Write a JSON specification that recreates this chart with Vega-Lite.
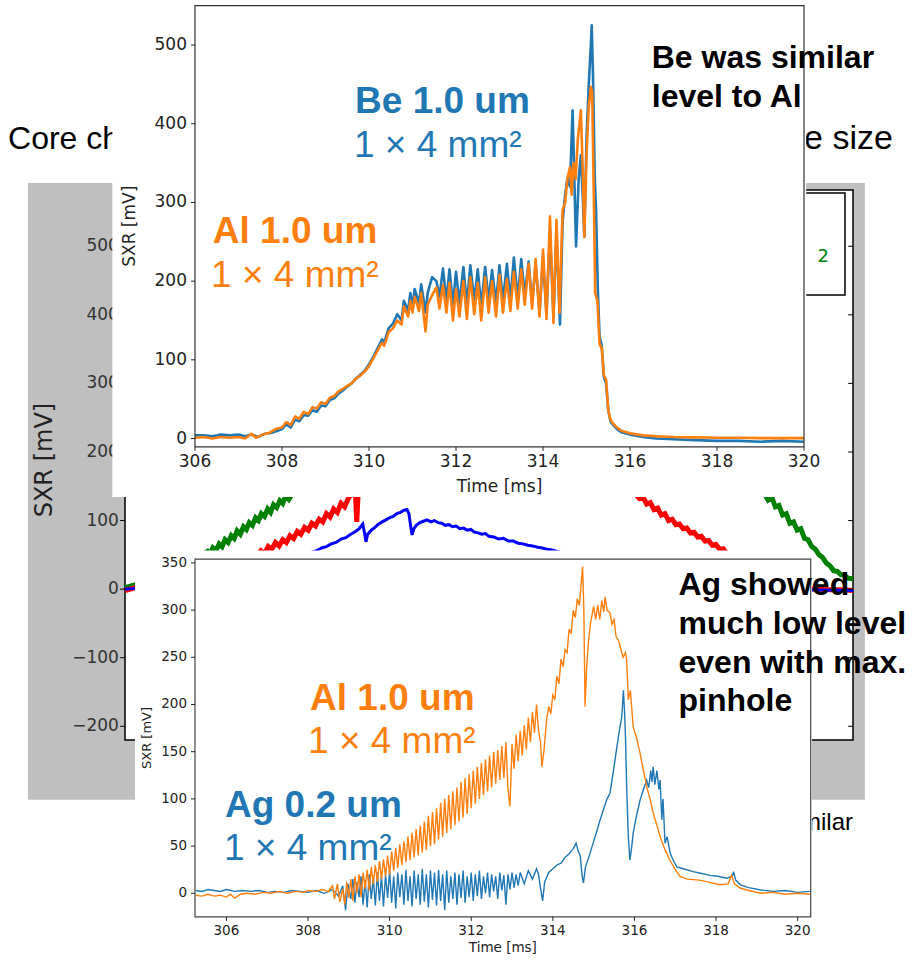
{
  "$schema": "https://vega.github.io/schema/vega-lite/v6.json",
  "width": 912,
  "height": 961,
  "autosize": "none",
  "padding": 0,
  "background": "white",
  "config": {"view": {"stroke": null}},
  "datasets": {
    "bg_ticks": [{"v": -200}, {"v": -100}, {"v": 0}, {"v": 100}, {"v": 200}, {"v": 300}, {"v": 400}, {"v": 500}],
    "top_xt": [{"t": 306}, {"t": 308}, {"t": 310}, {"t": 312}, {"t": 314}, {"t": 316}, {"t": 318}, {"t": 320}],
    "top_yt": [{"v": 0}, {"v": 100}, {"v": 200}, {"v": 300}, {"v": 400}, {"v": 500}],
    "bot_xt": [{"t": 306}, {"t": 308}, {"t": 310}, {"t": 312}, {"t": 314}, {"t": 316}, {"t": 318}, {"t": 320}],
    "bot_yt": [{"v": 0}, {"v": 50}, {"v": 100}, {"v": 150}, {"v": 200}, {"v": 250}, {"v": 300}, {"v": 350}],
    "bg_green": [
      {"t": 300.0, "v": 2}, {"t": 300.4, "v": 6}, {"t": 300.9, "v": 11}, {"t": 301.5, "v": 20}, {"t": 302.1, "v": 30}, {"t": 302.7, "v": 40}, {"t": 303.1, "v": 48}, {"t": 303.4, "v": 55},
      {"t": 303.5, "v": 50}, {"t": 303.62, "v": 60}, {"t": 303.75, "v": 56}, {"t": 303.88, "v": 66}, {"t": 304.0, "v": 62}, {"t": 304.12, "v": 72}, {"t": 304.25, "v": 68}, {"t": 304.38, "v": 78},
      {"t": 304.5, "v": 74}, {"t": 304.62, "v": 85}, {"t": 304.75, "v": 80}, {"t": 304.88, "v": 91}, {"t": 305.0, "v": 87}, {"t": 305.12, "v": 97}, {"t": 305.25, "v": 93}, {"t": 305.38, "v": 104},
      {"t": 305.5, "v": 100}, {"t": 305.62, "v": 110}, {"t": 305.75, "v": 106}, {"t": 305.88, "v": 117}, {"t": 306.0, "v": 112}, {"t": 306.12, "v": 123}, {"t": 306.25, "v": 119}, {"t": 306.38, "v": 129},
      {"t": 306.5, "v": 125}, {"t": 306.62, "v": 136}, {"t": 306.75, "v": 131}, {"t": 306.9, "v": 140}, {"t": 307.2, "v": 150}, {"t": 308.0, "v": 170}, {"t": 310.0, "v": 210}, {"t": 314.0, "v": 240},
      {"t": 318.0, "v": 240}, {"t": 322.0, "v": 220}, {"t": 325.0, "v": 170}, {"t": 326.3, "v": 142}, {"t": 326.5, "v": 130}, {"t": 326.65, "v": 134}, {"t": 326.8, "v": 120}, {"t": 326.95, "v": 122},
      {"t": 327.1, "v": 108}, {"t": 327.25, "v": 110}, {"t": 327.4, "v": 96}, {"t": 327.55, "v": 98}, {"t": 327.7, "v": 86}, {"t": 327.85, "v": 88}, {"t": 328.0, "v": 74}, {"t": 328.15, "v": 72},
      {"t": 328.3, "v": 62}, {"t": 328.45, "v": 58}, {"t": 328.6, "v": 50}, {"t": 328.75, "v": 46}, {"t": 328.9, "v": 38}, {"t": 329.05, "v": 34}, {"t": 329.2, "v": 27}, {"t": 329.35, "v": 26},
      {"t": 329.5, "v": 21}, {"t": 329.65, "v": 20}, {"t": 329.8, "v": 16}, {"t": 330.0, "v": 15}
    ],
    "bg_red": [
      {"t": 300.0, "v": -2}, {"t": 300.5, "v": 3}, {"t": 301.2, "v": 8}, {"t": 302.0, "v": 15}, {"t": 303.0, "v": 25}, {"t": 304.0, "v": 36}, {"t": 304.8, "v": 44}, {"t": 305.3, "v": 50},
      {"t": 305.45, "v": 48}, {"t": 305.6, "v": 56}, {"t": 305.75, "v": 52}, {"t": 305.9, "v": 62}, {"t": 306.05, "v": 58}, {"t": 306.2, "v": 68}, {"t": 306.35, "v": 63}, {"t": 306.5, "v": 72},
      {"t": 306.65, "v": 68}, {"t": 306.8, "v": 78}, {"t": 306.95, "v": 74}, {"t": 307.1, "v": 84}, {"t": 307.25, "v": 80}, {"t": 307.4, "v": 90}, {"t": 307.55, "v": 86}, {"t": 307.7, "v": 96},
      {"t": 307.85, "v": 92}, {"t": 308.0, "v": 102}, {"t": 308.15, "v": 98}, {"t": 308.3, "v": 110}, {"t": 308.45, "v": 105}, {"t": 308.6, "v": 117}, {"t": 308.75, "v": 112}, {"t": 308.9, "v": 125},
      {"t": 309.05, "v": 120}, {"t": 309.2, "v": 132}, {"t": 309.35, "v": 140}, {"t": 309.5, "v": 136}, {"t": 309.55, "v": 98}, {"t": 309.6, "v": 134}, {"t": 309.7, "v": 145}, {"t": 310.5, "v": 170},
      {"t": 315.0, "v": 210}, {"t": 319.0, "v": 190}, {"t": 320.5, "v": 150}, {"t": 321.0, "v": 140}, {"t": 321.2, "v": 132}, {"t": 321.35, "v": 134}, {"t": 321.5, "v": 124}, {"t": 321.65, "v": 126},
      {"t": 321.8, "v": 116}, {"t": 321.95, "v": 118}, {"t": 322.1, "v": 108}, {"t": 322.25, "v": 110}, {"t": 322.4, "v": 100}, {"t": 322.55, "v": 102}, {"t": 322.7, "v": 94}, {"t": 322.85, "v": 95},
      {"t": 323.0, "v": 88}, {"t": 323.15, "v": 89}, {"t": 323.3, "v": 82}, {"t": 323.45, "v": 83}, {"t": 323.6, "v": 76}, {"t": 323.75, "v": 77}, {"t": 323.9, "v": 70}, {"t": 324.05, "v": 71},
      {"t": 324.2, "v": 64}, {"t": 324.35, "v": 65}, {"t": 324.5, "v": 58}, {"t": 324.65, "v": 59}, {"t": 324.8, "v": 52}, {"t": 325.0, "v": 48}, {"t": 325.5, "v": 35}, {"t": 326.0, "v": 22},
      {"t": 326.5, "v": 12}, {"t": 327.0, "v": 6}, {"t": 327.5, "v": 3}, {"t": 328.0, "v": 1}, {"t": 328.5, "v": 0}, {"t": 329.0, "v": -1}, {"t": 329.5, "v": -1}, {"t": 330.0, "v": -2}
    ],
    "bg_blue": [
      {"t": 300.0, "v": 0}, {"t": 302.0, "v": 5}, {"t": 304.0, "v": 15}, {"t": 306.0, "v": 30}, {"t": 307.0, "v": 42}, {"t": 307.7, "v": 54}, {"t": 307.9, "v": 56}, {"t": 308.1, "v": 60},
      {"t": 308.3, "v": 62}, {"t": 308.5, "v": 66}, {"t": 308.7, "v": 68}, {"t": 308.9, "v": 73}, {"t": 309.1, "v": 75}, {"t": 309.3, "v": 80}, {"t": 309.5, "v": 84}, {"t": 309.65, "v": 88},
      {"t": 309.8, "v": 95}, {"t": 309.88, "v": 80}, {"t": 309.93, "v": 69}, {"t": 310.0, "v": 80}, {"t": 310.15, "v": 86}, {"t": 310.3, "v": 90}, {"t": 310.45, "v": 95}, {"t": 310.6, "v": 98},
      {"t": 310.75, "v": 101}, {"t": 310.9, "v": 104}, {"t": 311.05, "v": 106}, {"t": 311.2, "v": 110}, {"t": 311.35, "v": 112}, {"t": 311.5, "v": 115}, {"t": 311.62, "v": 116}, {"t": 311.7, "v": 110},
      {"t": 311.78, "v": 90}, {"t": 311.83, "v": 79}, {"t": 311.9, "v": 88}, {"t": 312.0, "v": 93}, {"t": 312.15, "v": 97}, {"t": 312.3, "v": 99}, {"t": 312.45, "v": 101}, {"t": 312.6, "v": 98},
      {"t": 312.75, "v": 100}, {"t": 312.9, "v": 97}, {"t": 313.05, "v": 96}, {"t": 313.2, "v": 93}, {"t": 313.35, "v": 94}, {"t": 313.5, "v": 91}, {"t": 313.65, "v": 92}, {"t": 313.8, "v": 88},
      {"t": 313.95, "v": 89}, {"t": 314.1, "v": 86}, {"t": 314.25, "v": 87}, {"t": 314.4, "v": 83}, {"t": 314.55, "v": 82}, {"t": 314.7, "v": 80}, {"t": 314.85, "v": 81}, {"t": 315.0, "v": 77},
      {"t": 315.2, "v": 76}, {"t": 315.4, "v": 73}, {"t": 315.6, "v": 74}, {"t": 315.8, "v": 70}, {"t": 316.0, "v": 70}, {"t": 316.2, "v": 67}, {"t": 316.4, "v": 66}, {"t": 316.6, "v": 64},
      {"t": 316.8, "v": 63}, {"t": 317.0, "v": 61}, {"t": 317.2, "v": 60}, {"t": 317.4, "v": 58}, {"t": 317.6, "v": 57}, {"t": 317.8, "v": 55}, {"t": 318.0, "v": 53}, {"t": 319.0, "v": 40},
      {"t": 320.0, "v": 28}, {"t": 321.0, "v": 15}, {"t": 322.0, "v": 6}, {"t": 324.0, "v": 2}, {"t": 326.0, "v": 0}, {"t": 328.0, "v": -1}, {"t": 330.0, "v": -2}
    ],
    "top_be": [
      {"t": 306.0, "v": 4}, {"t": 306.2, "v": 4}, {"t": 306.4, "v": 3}, {"t": 306.6, "v": 5}, {"t": 306.8, "v": 4}, {"t": 307.0, "v": 5}, {"t": 307.15, "v": 3}, {"t": 307.3, "v": 5},
      {"t": 307.45, "v": 2}, {"t": 307.6, "v": 6}, {"t": 307.75, "v": 7}, {"t": 307.9, "v": 10}, {"t": 308.0, "v": 12}, {"t": 308.1, "v": 18}, {"t": 308.2, "v": 14}, {"t": 308.3, "v": 24},
      {"t": 308.4, "v": 22}, {"t": 308.5, "v": 30}, {"t": 308.6, "v": 29}, {"t": 308.7, "v": 36}, {"t": 308.8, "v": 34}, {"t": 308.9, "v": 42}, {"t": 309.0, "v": 41}, {"t": 309.1, "v": 49},
      {"t": 309.2, "v": 51}, {"t": 309.3, "v": 57}, {"t": 309.4, "v": 61}, {"t": 309.5, "v": 66}, {"t": 309.6, "v": 70}, {"t": 309.7, "v": 76}, {"t": 309.8, "v": 81}, {"t": 309.9, "v": 86},
      {"t": 310.0, "v": 94}, {"t": 310.1, "v": 104}, {"t": 310.2, "v": 115}, {"t": 310.3, "v": 126}, {"t": 310.35, "v": 122}, {"t": 310.45, "v": 140}, {"t": 310.55, "v": 146}, {"t": 310.65, "v": 158},
      {"t": 310.75, "v": 150}, {"t": 310.8, "v": 175}, {"t": 310.9, "v": 163}, {"t": 310.95, "v": 185}, {"t": 311.0, "v": 168}, {"t": 311.05, "v": 190}, {"t": 311.15, "v": 172}, {"t": 311.2, "v": 196},
      {"t": 311.3, "v": 160}, {"t": 311.35, "v": 185}, {"t": 311.45, "v": 205}, {"t": 311.55, "v": 200}, {"t": 311.62, "v": 180}, {"t": 311.7, "v": 216}, {"t": 311.78, "v": 175}, {"t": 311.85, "v": 215},
      {"t": 311.93, "v": 170}, {"t": 312.0, "v": 212}, {"t": 312.08, "v": 172}, {"t": 312.17, "v": 218}, {"t": 312.25, "v": 170}, {"t": 312.33, "v": 220}, {"t": 312.42, "v": 175}, {"t": 312.5, "v": 215},
      {"t": 312.58, "v": 168}, {"t": 312.67, "v": 218}, {"t": 312.75, "v": 176}, {"t": 312.83, "v": 214}, {"t": 312.92, "v": 172}, {"t": 313.0, "v": 220}, {"t": 313.08, "v": 175}, {"t": 313.17, "v": 222},
      {"t": 313.25, "v": 176}, {"t": 313.33, "v": 230}, {"t": 313.42, "v": 178}, {"t": 313.5, "v": 228}, {"t": 313.58, "v": 182}, {"t": 313.67, "v": 225}, {"t": 313.75, "v": 170}, {"t": 313.83, "v": 222},
      {"t": 313.92, "v": 160}, {"t": 314.0, "v": 230}, {"t": 314.08, "v": 158}, {"t": 314.16, "v": 265}, {"t": 314.24, "v": 155}, {"t": 314.31, "v": 262}, {"t": 314.39, "v": 145}, {"t": 314.45, "v": 275},
      {"t": 314.51, "v": 310}, {"t": 314.56, "v": 330}, {"t": 314.62, "v": 320}, {"t": 314.68, "v": 417}, {"t": 314.76, "v": 244}, {"t": 314.82, "v": 330}, {"t": 314.87, "v": 360}, {"t": 314.92, "v": 300},
      {"t": 314.95, "v": 256}, {"t": 315.0, "v": 380}, {"t": 315.05, "v": 447}, {"t": 315.1, "v": 500}, {"t": 315.12, "v": 525}, {"t": 315.15, "v": 460}, {"t": 315.19, "v": 330}, {"t": 315.22, "v": 290},
      {"t": 315.26, "v": 190}, {"t": 315.3, "v": 130}, {"t": 315.35, "v": 118}, {"t": 315.4, "v": 78}, {"t": 315.45, "v": 70}, {"t": 315.5, "v": 36}, {"t": 315.55, "v": 22}, {"t": 315.6, "v": 18},
      {"t": 315.7, "v": 12}, {"t": 315.8, "v": 8}, {"t": 316.0, "v": 5}, {"t": 316.3, "v": 2}, {"t": 316.6, "v": 0}, {"t": 317.0, "v": -1}, {"t": 317.5, "v": -2}, {"t": 318.0, "v": -3},
      {"t": 318.5, "v": -3}, {"t": 319.0, "v": -4}, {"t": 319.5, "v": -3}, {"t": 320.0, "v": -4}
    ],
    "top_al": [
      {"t": 306.0, "v": 1}, {"t": 306.2, "v": 2}, {"t": 306.4, "v": 0}, {"t": 306.6, "v": 2}, {"t": 306.8, "v": 1}, {"t": 307.0, "v": 2}, {"t": 307.15, "v": 0}, {"t": 307.3, "v": 6},
      {"t": 307.4, "v": 1}, {"t": 307.55, "v": 5}, {"t": 307.7, "v": 7}, {"t": 307.85, "v": 12}, {"t": 308.0, "v": 14}, {"t": 308.1, "v": 21}, {"t": 308.2, "v": 17}, {"t": 308.3, "v": 28},
      {"t": 308.4, "v": 25}, {"t": 308.5, "v": 34}, {"t": 308.6, "v": 31}, {"t": 308.7, "v": 40}, {"t": 308.8, "v": 38}, {"t": 308.9, "v": 46}, {"t": 309.0, "v": 44}, {"t": 309.1, "v": 52},
      {"t": 309.2, "v": 54}, {"t": 309.3, "v": 60}, {"t": 309.4, "v": 63}, {"t": 309.5, "v": 67}, {"t": 309.6, "v": 70}, {"t": 309.7, "v": 76}, {"t": 309.8, "v": 80}, {"t": 309.9, "v": 85},
      {"t": 310.0, "v": 92}, {"t": 310.1, "v": 102}, {"t": 310.2, "v": 112}, {"t": 310.3, "v": 122}, {"t": 310.35, "v": 118}, {"t": 310.45, "v": 135}, {"t": 310.55, "v": 140}, {"t": 310.65, "v": 150},
      {"t": 310.75, "v": 145}, {"t": 310.8, "v": 168}, {"t": 310.9, "v": 155}, {"t": 310.95, "v": 175}, {"t": 311.0, "v": 160}, {"t": 311.05, "v": 180}, {"t": 311.15, "v": 162}, {"t": 311.2, "v": 185},
      {"t": 311.3, "v": 136}, {"t": 311.35, "v": 170}, {"t": 311.45, "v": 182}, {"t": 311.55, "v": 192}, {"t": 311.62, "v": 165}, {"t": 311.7, "v": 195}, {"t": 311.78, "v": 160}, {"t": 311.85, "v": 198},
      {"t": 311.93, "v": 150}, {"t": 312.0, "v": 190}, {"t": 312.08, "v": 155}, {"t": 312.17, "v": 200}, {"t": 312.25, "v": 152}, {"t": 312.33, "v": 205}, {"t": 312.42, "v": 158}, {"t": 312.5, "v": 198},
      {"t": 312.58, "v": 150}, {"t": 312.67, "v": 205}, {"t": 312.75, "v": 160}, {"t": 312.83, "v": 200}, {"t": 312.92, "v": 155}, {"t": 313.0, "v": 208}, {"t": 313.08, "v": 160}, {"t": 313.17, "v": 203},
      {"t": 313.25, "v": 162}, {"t": 313.33, "v": 212}, {"t": 313.42, "v": 165}, {"t": 313.5, "v": 215}, {"t": 313.58, "v": 170}, {"t": 313.67, "v": 222}, {"t": 313.75, "v": 165}, {"t": 313.83, "v": 228},
      {"t": 313.92, "v": 155}, {"t": 314.0, "v": 240}, {"t": 314.08, "v": 152}, {"t": 314.16, "v": 282}, {"t": 314.24, "v": 147}, {"t": 314.31, "v": 278}, {"t": 314.38, "v": 160}, {"t": 314.45, "v": 290},
      {"t": 314.51, "v": 300}, {"t": 314.56, "v": 330}, {"t": 314.62, "v": 345}, {"t": 314.66, "v": 310}, {"t": 314.7, "v": 350}, {"t": 314.75, "v": 330}, {"t": 314.8, "v": 380}, {"t": 314.87, "v": 417},
      {"t": 314.92, "v": 330}, {"t": 314.95, "v": 256}, {"t": 315.0, "v": 360}, {"t": 315.05, "v": 420}, {"t": 315.1, "v": 447}, {"t": 315.13, "v": 440}, {"t": 315.17, "v": 300}, {"t": 315.2, "v": 185},
      {"t": 315.25, "v": 175}, {"t": 315.3, "v": 120}, {"t": 315.35, "v": 115}, {"t": 315.4, "v": 80}, {"t": 315.45, "v": 75}, {"t": 315.5, "v": 36}, {"t": 315.55, "v": 24}, {"t": 315.6, "v": 20},
      {"t": 315.7, "v": 14}, {"t": 315.8, "v": 10}, {"t": 316.0, "v": 6.6}, {"t": 316.3, "v": 4}, {"t": 316.6, "v": 3}, {"t": 317.0, "v": 2}, {"t": 317.5, "v": 1.5}, {"t": 318.0, "v": 1},
      {"t": 318.5, "v": 1}, {"t": 319.0, "v": 0.5}, {"t": 319.5, "v": 0.5}, {"t": 320.0, "v": 0.5}
    ],
    "bot_ag": [
      {"t": 305.25, "v": 3}, {"t": 305.4, "v": 2}, {"t": 305.55, "v": 4}, {"t": 305.7, "v": 3}, {"t": 305.85, "v": 2}, {"t": 306.0, "v": 4}, {"t": 306.2, "v": 2}, {"t": 306.4, "v": 3},
      {"t": 306.6, "v": 2}, {"t": 306.8, "v": 3}, {"t": 307.0, "v": 1}, {"t": 307.2, "v": 2}, {"t": 307.4, "v": 1}, {"t": 307.6, "v": 3}, {"t": 307.8, "v": 2}, {"t": 308.0, "v": 1},
      {"t": 308.2, "v": 3}, {"t": 308.4, "v": 0}, {"t": 308.6, "v": 4}, {"t": 308.75, "v": -3}, {"t": 308.85, "v": 8}, {"t": 308.92, "v": -18}, {"t": 308.98, "v": 10}, {"t": 309.05, "v": -6},
      {"t": 309.1, "v": 15}, {"t": 309.15, "v": -10}, {"t": 309.2, "v": 12}, {"t": 309.25, "v": -4}, {"t": 309.3, "v": 18}, {"t": 309.35, "v": -12}, {"t": 309.4, "v": 14}, {"t": 309.45, "v": -15},
      {"t": 309.5, "v": 20}, {"t": 309.55, "v": -6}, {"t": 309.6, "v": 16}, {"t": 309.65, "v": -13}, {"t": 309.7, "v": 22}, {"t": 309.75, "v": -8}, {"t": 309.8, "v": 18}, {"t": 309.85, "v": -14},
      {"t": 309.9, "v": 20}, {"t": 309.95, "v": -5}, {"t": 310.0, "v": 24}, {"t": 310.05, "v": -10}, {"t": 310.1, "v": 18}, {"t": 310.15, "v": -16}, {"t": 310.2, "v": 22}, {"t": 310.25, "v": -4},
      {"t": 310.3, "v": 20}, {"t": 310.35, "v": -12}, {"t": 310.4, "v": 25}, {"t": 310.45, "v": -8}, {"t": 310.5, "v": 18}, {"t": 310.55, "v": -14}, {"t": 310.6, "v": 24}, {"t": 310.65, "v": -6},
      {"t": 310.7, "v": 20}, {"t": 310.75, "v": -12}, {"t": 310.8, "v": 26}, {"t": 310.85, "v": -9}, {"t": 310.9, "v": 20}, {"t": 310.95, "v": -15}, {"t": 311.0, "v": 24}, {"t": 311.05, "v": -7},
      {"t": 311.1, "v": 22}, {"t": 311.15, "v": -13}, {"t": 311.2, "v": 25}, {"t": 311.25, "v": -8}, {"t": 311.3, "v": 20}, {"t": 311.35, "v": -18}, {"t": 311.4, "v": 24}, {"t": 311.45, "v": -10},
      {"t": 311.5, "v": 18}, {"t": 311.55, "v": -6}, {"t": 311.6, "v": 22}, {"t": 311.65, "v": -12}, {"t": 311.7, "v": 20}, {"t": 311.75, "v": -5}, {"t": 311.8, "v": 24}, {"t": 311.85, "v": -10},
      {"t": 311.9, "v": 18}, {"t": 311.95, "v": -4}, {"t": 312.0, "v": 22}, {"t": 312.05, "v": -8}, {"t": 312.1, "v": 20}, {"t": 312.15, "v": -3}, {"t": 312.2, "v": 24}, {"t": 312.25, "v": -6},
      {"t": 312.3, "v": 18}, {"t": 312.35, "v": 0}, {"t": 312.4, "v": 22}, {"t": 312.45, "v": -4}, {"t": 312.5, "v": 20}, {"t": 312.55, "v": 2}, {"t": 312.6, "v": 18}, {"t": 312.65, "v": -6},
      {"t": 312.7, "v": 22}, {"t": 312.75, "v": 3}, {"t": 312.8, "v": 19}, {"t": 312.85, "v": -12}, {"t": 312.9, "v": 20}, {"t": 312.95, "v": 4}, {"t": 313.0, "v": 22}, {"t": 313.05, "v": 6},
      {"t": 313.1, "v": 20}, {"t": 313.15, "v": 8}, {"t": 313.2, "v": 22}, {"t": 313.3, "v": 10}, {"t": 313.4, "v": 24}, {"t": 313.5, "v": 15}, {"t": 313.6, "v": 26}, {"t": 313.65, "v": 20},
      {"t": 313.7, "v": 5}, {"t": 313.75, "v": -8}, {"t": 313.8, "v": 12}, {"t": 313.9, "v": 22}, {"t": 314.0, "v": 26}, {"t": 314.1, "v": 30}, {"t": 314.2, "v": 32}, {"t": 314.3, "v": 38},
      {"t": 314.4, "v": 42}, {"t": 314.5, "v": 47}, {"t": 314.57, "v": 53}, {"t": 314.62, "v": 45}, {"t": 314.67, "v": 40}, {"t": 314.72, "v": 18}, {"t": 314.75, "v": 11}, {"t": 314.8, "v": 28},
      {"t": 314.91, "v": 42}, {"t": 315.0, "v": 55}, {"t": 315.08, "v": 66}, {"t": 315.16, "v": 78}, {"t": 315.25, "v": 90}, {"t": 315.33, "v": 100}, {"t": 315.4, "v": 106}, {"t": 315.48, "v": 128},
      {"t": 315.57, "v": 155}, {"t": 315.63, "v": 172}, {"t": 315.69, "v": 187}, {"t": 315.73, "v": 215}, {"t": 315.76, "v": 190}, {"t": 315.78, "v": 166}, {"t": 315.81, "v": 113}, {"t": 315.85, "v": 60},
      {"t": 315.89, "v": 35}, {"t": 315.93, "v": 48}, {"t": 315.97, "v": 64}, {"t": 316.05, "v": 82}, {"t": 316.14, "v": 99}, {"t": 316.22, "v": 110}, {"t": 316.3, "v": 120}, {"t": 316.35, "v": 112},
      {"t": 316.4, "v": 130}, {"t": 316.43, "v": 118}, {"t": 316.46, "v": 134}, {"t": 316.5, "v": 115}, {"t": 316.55, "v": 130}, {"t": 316.6, "v": 110}, {"t": 316.63, "v": 120}, {"t": 316.67, "v": 78},
      {"t": 316.7, "v": 100}, {"t": 316.75, "v": 53}, {"t": 316.8, "v": 60}, {"t": 316.88, "v": 42}, {"t": 316.95, "v": 35}, {"t": 317.04, "v": 28}, {"t": 317.2, "v": 26}, {"t": 317.44, "v": 23},
      {"t": 317.65, "v": 21}, {"t": 317.85, "v": 19}, {"t": 318.05, "v": 18}, {"t": 318.26, "v": 16}, {"t": 318.4, "v": 18}, {"t": 318.43, "v": 23}, {"t": 318.48, "v": 14}, {"t": 318.6, "v": 9},
      {"t": 318.8, "v": 6}, {"t": 319.1, "v": 3.5}, {"t": 319.4, "v": 2}, {"t": 319.7, "v": 3}, {"t": 320.0, "v": 1}, {"t": 320.3, "v": 2}
    ],
    "bot_al": [
      {"t": 305.25, "v": -2}, {"t": 305.4, "v": -3}, {"t": 305.55, "v": -1}, {"t": 305.7, "v": -3}, {"t": 305.85, "v": -2}, {"t": 306.0, "v": -4}, {"t": 306.1, "v": -1}, {"t": 306.2, "v": -5},
      {"t": 306.35, "v": -1}, {"t": 306.5, "v": 0}, {"t": 306.7, "v": -1}, {"t": 306.9, "v": 1}, {"t": 307.1, "v": 0}, {"t": 307.3, "v": 2}, {"t": 307.5, "v": 0}, {"t": 307.7, "v": 2},
      {"t": 307.9, "v": 1}, {"t": 308.0, "v": 3}, {"t": 308.2, "v": 2}, {"t": 308.35, "v": 4}, {"t": 308.5, "v": 2}, {"t": 308.6, "v": 8}, {"t": 308.65, "v": -6}, {"t": 308.72, "v": 10},
      {"t": 308.78, "v": -9}, {"t": 308.85, "v": 5}, {"t": 308.9, "v": -12}, {"t": 308.95, "v": 12}, {"t": 309.0, "v": -5}, {"t": 309.05, "v": 15}, {"t": 309.1, "v": -8}, {"t": 309.15, "v": 18},
      {"t": 309.2, "v": 0}, {"t": 309.25, "v": 20}, {"t": 309.3, "v": -4}, {"t": 309.35, "v": 22}, {"t": 309.4, "v": 5}, {"t": 309.45, "v": 25}, {"t": 309.5, "v": 3}, {"t": 309.55, "v": 28},
      {"t": 309.6, "v": 10}, {"t": 309.65, "v": 30}, {"t": 309.7, "v": 12}, {"t": 309.75, "v": 34}, {"t": 309.8, "v": 15}, {"t": 309.85, "v": 36}, {"t": 309.9, "v": 18}, {"t": 309.95, "v": 40},
      {"t": 310.0, "v": 20}, {"t": 310.05, "v": 44}, {"t": 310.1, "v": 24}, {"t": 310.15, "v": 48}, {"t": 310.2, "v": 27}, {"t": 310.25, "v": 52}, {"t": 310.3, "v": 30}, {"t": 310.35, "v": 55},
      {"t": 310.4, "v": 33}, {"t": 310.45, "v": 60}, {"t": 310.5, "v": 35}, {"t": 310.55, "v": 64}, {"t": 310.6, "v": 38}, {"t": 310.65, "v": 68}, {"t": 310.7, "v": 40}, {"t": 310.75, "v": 72},
      {"t": 310.8, "v": 43}, {"t": 310.85, "v": 76}, {"t": 310.9, "v": 46}, {"t": 310.95, "v": 82}, {"t": 311.0, "v": 50}, {"t": 311.05, "v": 86}, {"t": 311.1, "v": 52}, {"t": 311.15, "v": 90},
      {"t": 311.2, "v": 57}, {"t": 311.25, "v": 96}, {"t": 311.3, "v": 60}, {"t": 311.35, "v": 100}, {"t": 311.4, "v": 64}, {"t": 311.45, "v": 104}, {"t": 311.5, "v": 68}, {"t": 311.55, "v": 108},
      {"t": 311.6, "v": 72}, {"t": 311.65, "v": 112}, {"t": 311.7, "v": 76}, {"t": 311.75, "v": 118}, {"t": 311.8, "v": 80}, {"t": 311.85, "v": 122}, {"t": 311.9, "v": 84}, {"t": 311.95, "v": 126},
      {"t": 312.0, "v": 90}, {"t": 312.05, "v": 130}, {"t": 312.1, "v": 95}, {"t": 312.15, "v": 134}, {"t": 312.2, "v": 100}, {"t": 312.25, "v": 138}, {"t": 312.3, "v": 104}, {"t": 312.35, "v": 142},
      {"t": 312.4, "v": 108}, {"t": 312.45, "v": 146}, {"t": 312.5, "v": 112}, {"t": 312.55, "v": 150}, {"t": 312.6, "v": 116}, {"t": 312.65, "v": 152}, {"t": 312.7, "v": 120}, {"t": 312.75, "v": 156},
      {"t": 312.8, "v": 122}, {"t": 312.85, "v": 160}, {"t": 312.9, "v": 110}, {"t": 312.95, "v": 92}, {"t": 313.0, "v": 158}, {"t": 313.05, "v": 132}, {"t": 313.1, "v": 168}, {"t": 313.15, "v": 140},
      {"t": 313.2, "v": 172}, {"t": 313.25, "v": 146}, {"t": 313.3, "v": 178}, {"t": 313.35, "v": 152}, {"t": 313.4, "v": 186}, {"t": 313.45, "v": 160}, {"t": 313.5, "v": 192}, {"t": 313.55, "v": 170},
      {"t": 313.6, "v": 200}, {"t": 313.65, "v": 172}, {"t": 313.7, "v": 160}, {"t": 313.73, "v": 134}, {"t": 313.78, "v": 150}, {"t": 313.85, "v": 185}, {"t": 313.9, "v": 198}, {"t": 313.95, "v": 190},
      {"t": 314.0, "v": 210}, {"t": 314.05, "v": 205}, {"t": 314.1, "v": 230}, {"t": 314.15, "v": 222}, {"t": 314.2, "v": 248}, {"t": 314.25, "v": 240}, {"t": 314.3, "v": 258}, {"t": 314.35, "v": 255},
      {"t": 314.4, "v": 280}, {"t": 314.45, "v": 275}, {"t": 314.5, "v": 300}, {"t": 314.55, "v": 292}, {"t": 314.6, "v": 312}, {"t": 314.65, "v": 305}, {"t": 314.7, "v": 330}, {"t": 314.73, "v": 346},
      {"t": 314.76, "v": 300}, {"t": 314.79, "v": 198}, {"t": 314.83, "v": 240}, {"t": 314.87, "v": 265}, {"t": 314.92, "v": 285}, {"t": 315.0, "v": 304}, {"t": 315.05, "v": 290}, {"t": 315.1, "v": 305},
      {"t": 315.15, "v": 290}, {"t": 315.2, "v": 310}, {"t": 315.25, "v": 298}, {"t": 315.28, "v": 314}, {"t": 315.33, "v": 300}, {"t": 315.4, "v": 297}, {"t": 315.45, "v": 285}, {"t": 315.5, "v": 290},
      {"t": 315.55, "v": 272}, {"t": 315.61, "v": 268}, {"t": 315.67, "v": 258}, {"t": 315.72, "v": 250}, {"t": 315.78, "v": 255}, {"t": 315.81, "v": 247}, {"t": 315.85, "v": 205}, {"t": 315.9, "v": 215},
      {"t": 315.97, "v": 176}, {"t": 316.05, "v": 165}, {"t": 316.14, "v": 148}, {"t": 316.22, "v": 130}, {"t": 316.3, "v": 113}, {"t": 316.38, "v": 100}, {"t": 316.46, "v": 85}, {"t": 316.55, "v": 72},
      {"t": 316.63, "v": 60}, {"t": 316.75, "v": 46}, {"t": 316.87, "v": 35}, {"t": 317.0, "v": 25}, {"t": 317.12, "v": 18}, {"t": 317.3, "v": 15}, {"t": 317.6, "v": 14}, {"t": 317.9, "v": 11},
      {"t": 318.1, "v": 9}, {"t": 318.3, "v": 10}, {"t": 318.38, "v": 19}, {"t": 318.45, "v": 10}, {"t": 318.59, "v": 5.6}, {"t": 318.8, "v": 3}, {"t": 319.1, "v": 0}, {"t": 319.4, "v": 1},
      {"t": 319.7, "v": -1}, {"t": 320.0, "v": 0}, {"t": 320.3, "v": -1}
    ]
  },
  "layer": [
    {
      "layer": [
        {
          "data": {"values": [{}]},
          "mark": {"type": "rect", "fill": "#bfbfbf"},
          "encoding": {
            "x": {"datum": 296.0, "type": "quantitative", "scale": {"domain": [300, 330], "range": [125, 853], "nice": false, "zero": false}, "axis": null},
            "x2": {"datum": 330.49},
            "y": {"datum": -307.3, "type": "quantitative", "scale": {"domain": [-220, 582], "range": [740, 190], "nice": false, "zero": false}, "axis": null},
            "y2": {"datum": 592.2}
          }
        },
        {
          "data": {"values": [{}]},
          "mark": {"type": "rect", "fill": "white", "stroke": "black", "strokeWidth": 1.5},
          "encoding": {
            "x": {"datum": 300, "type": "quantitative", "scale": {"domain": [300, 330], "range": [125, 853], "nice": false, "zero": false}, "axis": null},
            "x2": {"datum": 330},
            "y": {"datum": -220, "type": "quantitative", "scale": {"domain": [-220, 582], "range": [740, 190], "nice": false, "zero": false}, "axis": null},
            "y2": {"datum": 582}
          }
        },
        {
          "data": {"values": [{}]},
          "mark": {"type": "rect", "fill": "white", "stroke": "black", "strokeWidth": 1.5},
          "encoding": {
            "x": {"datum": 319.57, "type": "quantitative", "scale": {"domain": [300, 330], "range": [125, 853], "nice": false, "zero": false}, "axis": null},
            "x2": {"datum": 329.67},
            "y": {"datum": 428.8, "type": "quantitative", "scale": {"domain": [-220, 582], "range": [740, 190], "nice": false, "zero": false}, "axis": null},
            "y2": {"datum": 577.6}
          }
        },
        {
          "data": {"values": [{}]},
          "mark": {"type": "text", "text": "ch\u20032", "align": "right", "baseline": "alphabetic", "font": "DejaVu Sans", "fontSize": 18, "color": "green"},
          "encoding": {
            "x": {"datum": 329.01, "type": "quantitative", "scale": {"domain": [300, 330], "range": [125, 853], "nice": false, "zero": false}, "axis": null},
            "y": {"datum": 477, "type": "quantitative", "scale": {"domain": [-220, 582], "range": [740, 190], "nice": false, "zero": false}, "axis": null}
          }
        },
        {
          "data": {"name": "bg_green"},
          "mark": {"type": "line", "color": "green", "strokeWidth": 5},
          "encoding": {
            "x": {"field": "t", "type": "quantitative", "scale": {"domain": [300, 330], "range": [125, 853], "nice": false, "zero": false}, "axis": null},
            "y": {"field": "v", "type": "quantitative", "scale": {"domain": [-220, 582], "range": [740, 190], "nice": false, "zero": false}, "axis": null}
          }
        },
        {
          "data": {"name": "bg_red"},
          "mark": {"type": "line", "color": "red", "strokeWidth": 5},
          "encoding": {
            "x": {"field": "t", "type": "quantitative", "scale": {"domain": [300, 330], "range": [125, 853], "nice": false, "zero": false}, "axis": null},
            "y": {"field": "v", "type": "quantitative", "scale": {"domain": [-220, 582], "range": [740, 190], "nice": false, "zero": false}, "axis": null}
          }
        },
        {
          "data": {"name": "bg_blue"},
          "mark": {"type": "line", "color": "blue", "strokeWidth": 3},
          "encoding": {
            "x": {"field": "t", "type": "quantitative", "scale": {"domain": [300, 330], "range": [125, 853], "nice": false, "zero": false}, "axis": null},
            "y": {"field": "v", "type": "quantitative", "scale": {"domain": [-220, 582], "range": [740, 190], "nice": false, "zero": false}, "axis": null}
          }
        },
        {
          "data": {"name": "bg_ticks"},
          "mark": {"type": "rule", "color": "black", "strokeWidth": 1},
          "encoding": {
            "x": {"datum": 299.8, "type": "quantitative", "scale": {"domain": [300, 330], "range": [125, 853], "nice": false, "zero": false}, "axis": null},
            "x2": {"datum": 300},
            "y": {"field": "v", "type": "quantitative", "scale": {"domain": [-220, 582], "range": [740, 190], "nice": false, "zero": false}, "axis": null}
          }
        },
        {
          "data": {"name": "bg_ticks"},
          "mark": {"type": "rule", "color": "black", "strokeWidth": 1},
          "encoding": {
            "x": {"datum": 329.8, "type": "quantitative", "scale": {"domain": [300, 330], "range": [125, 853], "nice": false, "zero": false}, "axis": null},
            "x2": {"datum": 330},
            "y": {"field": "v", "type": "quantitative", "scale": {"domain": [-220, 582], "range": [740, 190], "nice": false, "zero": false}, "axis": null}
          }
        },
        {
          "data": {"name": "bg_ticks"},
          "mark": {"type": "text", "align": "right", "baseline": "middle", "font": "DejaVu Sans", "fontSize": 17, "color": "#333"},
          "encoding": {
            "x": {"datum": 299.75, "type": "quantitative", "scale": {"domain": [300, 330], "range": [125, 853], "nice": false, "zero": false}, "axis": null},
            "y": {"field": "v", "type": "quantitative", "scale": {"domain": [-220, 582], "range": [740, 190], "nice": false, "zero": false}, "axis": null},
            "text": {"field": "v", "type": "quantitative", "format": "d"}
          }
        },
        {
          "data": {"values": [{}]},
          "mark": {"type": "text", "text": "SXR [mV]", "angle": 270, "align": "center", "baseline": "middle", "font": "DejaVu Sans", "fontSize": 24, "color": "#222"},
          "encoding": {
            "x": {"datum": 296.7, "type": "quantitative", "scale": {"domain": [300, 330], "range": [125, 853], "nice": false, "zero": false}, "axis": null},
            "y": {"datum": 188.2, "type": "quantitative", "scale": {"domain": [-220, 582], "range": [740, 190], "nice": false, "zero": false}, "axis": null}
          }
        },
        {
          "data": {"values": [{}]},
          "mark": {"type": "text", "text": "Core ch", "align": "left", "baseline": "alphabetic", "font": "Liberation Sans", "fontSize": 32, "color": "black"},
          "encoding": {
            "x": {"datum": 295.18, "type": "quantitative", "scale": {"domain": [300, 330], "range": [125, 853], "nice": false, "zero": false}, "axis": null},
            "y": {"datum": 641.8, "type": "quantitative", "scale": {"domain": [-220, 582], "range": [740, 190], "nice": false, "zero": false}, "axis": null}
          }
        },
        {
          "data": {"values": [{}]},
          "mark": {"type": "text", "text": "pinhole size", "align": "right", "baseline": "alphabetic", "font": "Liberation Sans", "fontSize": 34, "color": "black"},
          "encoding": {
            "x": {"datum": 331.644, "type": "quantitative", "scale": {"domain": [300, 330], "range": [125, 853], "nice": false, "zero": false}, "axis": null},
            "y": {"datum": 641.8, "type": "quantitative", "scale": {"domain": [-220, 582], "range": [740, 190], "nice": false, "zero": false}, "axis": null}
          }
        },
        {
          "data": {"values": [{}]},
          "mark": {"type": "text", "text": "similar", "align": "right", "baseline": "alphabetic", "font": "Liberation Sans", "fontSize": 24, "color": "black"},
          "encoding": {
            "x": {"datum": 330.0, "type": "quantitative", "scale": {"domain": [300, 330], "range": [125, 853], "nice": false, "zero": false}, "axis": null},
            "y": {"datum": -351.3, "type": "quantitative", "scale": {"domain": [-220, 582], "range": [740, 190], "nice": false, "zero": false}, "axis": null}
          }
        }
      ]
    },
    {
      "layer": [
        {
          "data": {"values": [{}]},
          "mark": {"type": "rect", "fill": "white"},
          "encoding": {
            "x": {"datum": 304.1, "type": "quantitative", "scale": {"domain": [306, 320], "range": [195, 804], "nice": false, "zero": false}, "axis": null},
            "x2": {"datum": 320.05},
            "y": {"datum": -74.3, "type": "quantitative", "scale": {"domain": [-10.5, 550], "range": [446.8, 5.7], "nice": false, "zero": false}, "axis": null},
            "y2": {"datum": 551}
          }
        },
        {
          "data": {"name": "top_be"},
          "mark": {"type": "line", "color": "#1f77b4", "strokeWidth": 2.6, "strokeJoin": "round"},
          "encoding": {
            "x": {"field": "t", "type": "quantitative", "scale": {"domain": [306, 320], "range": [195, 804], "nice": false, "zero": false}, "axis": null},
            "y": {"field": "v", "type": "quantitative", "scale": {"domain": [-10.5, 550], "range": [446.8, 5.7], "nice": false, "zero": false}, "axis": null}
          }
        },
        {
          "data": {"name": "top_al"},
          "mark": {"type": "line", "color": "#ff7f0e", "strokeWidth": 2.6, "strokeJoin": "round"},
          "encoding": {
            "x": {"field": "t", "type": "quantitative", "scale": {"domain": [306, 320], "range": [195, 804], "nice": false, "zero": false}, "axis": null},
            "y": {"field": "v", "type": "quantitative", "scale": {"domain": [-10.5, 550], "range": [446.8, 5.7], "nice": false, "zero": false}, "axis": null}
          }
        },
        {
          "data": {"values": [{}]},
          "mark": {"type": "rect", "fill": null, "fillOpacity": 0, "stroke": "#333", "strokeWidth": 1.2},
          "encoding": {
            "x": {"datum": 306, "type": "quantitative", "scale": {"domain": [306, 320], "range": [195, 804], "nice": false, "zero": false}, "axis": null},
            "x2": {"datum": 320},
            "y": {"datum": -10.5, "type": "quantitative", "scale": {"domain": [-10.5, 550], "range": [446.8, 5.7], "nice": false, "zero": false}, "axis": null},
            "y2": {"datum": 550}
          }
        },
        {
          "data": {"name": "top_xt"},
          "mark": {"type": "rule", "color": "#222", "strokeWidth": 1},
          "encoding": {
            "x": {"field": "t", "type": "quantitative", "scale": {"domain": [306, 320], "range": [195, 804], "nice": false, "zero": false}, "axis": null},
            "y": {"datum": -10.5, "type": "quantitative", "scale": {"domain": [-10.5, 550], "range": [446.8, 5.7], "nice": false, "zero": false}, "axis": null},
            "y2": {"datum": -15.6}
          }
        },
        {
          "data": {"name": "top_xt"},
          "mark": {"type": "text", "align": "center", "baseline": "top", "font": "DejaVu Sans", "fontSize": 17, "color": "#222"},
          "encoding": {
            "x": {"field": "t", "type": "quantitative", "scale": {"domain": [306, 320], "range": [195, 804], "nice": false, "zero": false}, "axis": null},
            "y": {"datum": -19.4, "type": "quantitative", "scale": {"domain": [-10.5, 550], "range": [446.8, 5.7], "nice": false, "zero": false}, "axis": null},
            "text": {"field": "t", "type": "quantitative", "format": "d"}
          }
        },
        {
          "data": {"name": "top_yt"},
          "mark": {"type": "rule", "color": "#222", "strokeWidth": 1},
          "encoding": {
            "x": {"datum": 305.908, "type": "quantitative", "scale": {"domain": [306, 320], "range": [195, 804], "nice": false, "zero": false}, "axis": null},
            "x2": {"datum": 306},
            "y": {"field": "v", "type": "quantitative", "scale": {"domain": [-10.5, 550], "range": [446.8, 5.7], "nice": false, "zero": false}, "axis": null}
          }
        },
        {
          "data": {"name": "top_yt"},
          "mark": {"type": "text", "align": "right", "baseline": "middle", "font": "DejaVu Sans", "fontSize": 17, "color": "#222"},
          "encoding": {
            "x": {"datum": 305.816, "type": "quantitative", "scale": {"domain": [306, 320], "range": [195, 804], "nice": false, "zero": false}, "axis": null},
            "y": {"field": "v", "type": "quantitative", "scale": {"domain": [-10.5, 550], "range": [446.8, 5.7], "nice": false, "zero": false}, "axis": null},
            "text": {"field": "v", "type": "quantitative", "format": "d"}
          }
        },
        {
          "data": {"values": [{}]},
          "mark": {"type": "text", "text": "Time [ms]", "align": "center", "baseline": "middle", "font": "DejaVu Sans", "fontSize": 17, "color": "#222"},
          "encoding": {
            "x": {"datum": 313.0, "type": "quantitative", "scale": {"domain": [306, 320], "range": [195, 804], "nice": false, "zero": false}, "axis": null},
            "y": {"datum": -61.6, "type": "quantitative", "scale": {"domain": [-10.5, 550], "range": [446.8, 5.7], "nice": false, "zero": false}, "axis": null}
          }
        },
        {
          "data": {"values": [{}]},
          "mark": {"type": "text", "text": "SXR [mV]", "angle": 270, "align": "center", "baseline": "middle", "font": "DejaVu Sans", "fontSize": 17, "color": "#222"},
          "encoding": {
            "x": {"datum": 304.506, "type": "quantitative", "scale": {"domain": [306, 320], "range": [195, 804], "nice": false, "zero": false}, "axis": null},
            "y": {"datum": 269.75, "type": "quantitative", "scale": {"domain": [-10.5, 550], "range": [446.8, 5.7], "nice": false, "zero": false}, "axis": null}
          }
        },
        {
          "data": {"values": [{}]},
          "mark": {"type": "text", "text": "Be 1.0 um", "align": "left", "baseline": "alphabetic", "font": "Liberation Sans", "fontSize": 37, "fontWeight": "bold", "color": "#1f77b4"},
          "encoding": {
            "x": {"datum": 309.68, "type": "quantitative", "scale": {"domain": [306, 320], "range": [195, 804], "nice": false, "zero": false}, "axis": null},
            "y": {"datum": 413.2, "type": "quantitative", "scale": {"domain": [-10.5, 550], "range": [446.8, 5.7], "nice": false, "zero": false}, "axis": null}
          }
        },
        {
          "data": {"values": [{}]},
          "mark": {"type": "text", "text": "1 × 4 mm²", "align": "left", "baseline": "alphabetic", "font": "Liberation Sans", "fontSize": 37, "color": "#1f77b4"},
          "encoding": {
            "x": {"datum": 309.655, "type": "quantitative", "scale": {"domain": [306, 320], "range": [195, 804], "nice": false, "zero": false}, "axis": null},
            "y": {"datum": 358.1, "type": "quantitative", "scale": {"domain": [-10.5, 550], "range": [446.8, 5.7], "nice": false, "zero": false}, "axis": null}
          }
        },
        {
          "data": {"values": [{}]},
          "mark": {"type": "text", "text": "Al 1.0 um", "align": "left", "baseline": "alphabetic", "font": "Liberation Sans", "fontSize": 37, "fontWeight": "bold", "color": "#ff7f0e"},
          "encoding": {
            "x": {"datum": 306.41, "type": "quantitative", "scale": {"domain": [306, 320], "range": [195, 804], "nice": false, "zero": false}, "axis": null},
            "y": {"datum": 248.0, "type": "quantitative", "scale": {"domain": [-10.5, 550], "range": [446.8, 5.7], "nice": false, "zero": false}, "axis": null}
          }
        },
        {
          "data": {"values": [{}]},
          "mark": {"type": "text", "text": "1 × 4 mm²", "align": "left", "baseline": "alphabetic", "font": "Liberation Sans", "fontSize": 37, "color": "#ff7f0e"},
          "encoding": {
            "x": {"datum": 306.37, "type": "quantitative", "scale": {"domain": [306, 320], "range": [195, 804], "nice": false, "zero": false}, "axis": null},
            "y": {"datum": 192.9, "type": "quantitative", "scale": {"domain": [-10.5, 550], "range": [446.8, 5.7], "nice": false, "zero": false}, "axis": null}
          }
        },
        {
          "data": {"values": [{}]},
          "mark": {"type": "text", "text": ["Be was similar", "level to Al"], "lineHeight": 39, "align": "left", "baseline": "alphabetic", "font": "Liberation Sans", "fontSize": 32, "fontWeight": "bold", "color": "black"},
          "encoding": {
            "x": {"datum": 316.5, "type": "quantitative", "scale": {"domain": [306, 320], "range": [195, 804], "nice": false, "zero": false}, "axis": null},
            "y": {"datum": 470.4, "type": "quantitative", "scale": {"domain": [-10.5, 550], "range": [446.8, 5.7], "nice": false, "zero": false}, "axis": null}
          }
        }
      ]
    },
    {
      "layer": [
        {
          "data": {"values": [{}]},
          "mark": {"type": "rect", "fill": "white"},
          "encoding": {
            "x": {"datum": 303.76, "type": "quantitative", "scale": {"domain": [305.23, 320.32], "range": [195, 810.7], "nice": false, "zero": false}, "axis": null},
            "x2": {"datum": 320.35},
            "y": {"datum": -72, "type": "quantitative", "scale": {"domain": [-25, 354], "range": [916.9, 559.1], "nice": false, "zero": false}, "axis": null},
            "y2": {"datum": 363}
          }
        },
        {
          "data": {"name": "bot_ag"},
          "mark": {"type": "line", "color": "#1f77b4", "strokeWidth": 1.4},
          "encoding": {
            "x": {"field": "t", "type": "quantitative", "scale": {"domain": [305.23, 320.32], "range": [195, 810.7], "nice": false, "zero": false}, "axis": null},
            "y": {"field": "v", "type": "quantitative", "scale": {"domain": [-25, 354], "range": [916.9, 559.1], "nice": false, "zero": false}, "axis": null}
          }
        },
        {
          "data": {"name": "bot_al"},
          "mark": {"type": "line", "color": "#ff7f0e", "strokeWidth": 1.4},
          "encoding": {
            "x": {"field": "t", "type": "quantitative", "scale": {"domain": [305.23, 320.32], "range": [195, 810.7], "nice": false, "zero": false}, "axis": null},
            "y": {"field": "v", "type": "quantitative", "scale": {"domain": [-25, 354], "range": [916.9, 559.1], "nice": false, "zero": false}, "axis": null}
          }
        },
        {
          "data": {"values": [{}]},
          "mark": {"type": "rect", "fill": null, "fillOpacity": 0, "stroke": "#444", "strokeWidth": 1.2},
          "encoding": {
            "x": {"datum": 305.23, "type": "quantitative", "scale": {"domain": [305.23, 320.32], "range": [195, 810.7], "nice": false, "zero": false}, "axis": null},
            "x2": {"datum": 320.32},
            "y": {"datum": -25, "type": "quantitative", "scale": {"domain": [-25, 354], "range": [916.9, 559.1], "nice": false, "zero": false}, "axis": null},
            "y2": {"datum": 354}
          }
        },
        {
          "data": {"name": "bot_xt"},
          "mark": {"type": "rule", "color": "#222", "strokeWidth": 1},
          "encoding": {
            "x": {"field": "t", "type": "quantitative", "scale": {"domain": [305.23, 320.32], "range": [195, 810.7], "nice": false, "zero": false}, "axis": null},
            "y": {"datum": -25, "type": "quantitative", "scale": {"domain": [-25, 354], "range": [916.9, 559.1], "nice": false, "zero": false}, "axis": null},
            "y2": {"datum": -29.24}
          }
        },
        {
          "data": {"name": "bot_xt"},
          "mark": {"type": "text", "align": "center", "baseline": "top", "font": "DejaVu Sans", "fontSize": 13.5, "color": "#222"},
          "encoding": {
            "x": {"field": "t", "type": "quantitative", "scale": {"domain": [305.23, 320.32], "range": [195, 810.7], "nice": false, "zero": false}, "axis": null},
            "y": {"datum": -32.4, "type": "quantitative", "scale": {"domain": [-25, 354], "range": [916.9, 559.1], "nice": false, "zero": false}, "axis": null},
            "text": {"field": "t", "type": "quantitative", "format": "d"}
          }
        },
        {
          "data": {"name": "bot_yt"},
          "mark": {"type": "rule", "color": "#222", "strokeWidth": 1},
          "encoding": {
            "x": {"datum": 305.132, "type": "quantitative", "scale": {"domain": [305.23, 320.32], "range": [195, 810.7], "nice": false, "zero": false}, "axis": null},
            "x2": {"datum": 305.23},
            "y": {"field": "v", "type": "quantitative", "scale": {"domain": [-25, 354], "range": [916.9, 559.1], "nice": false, "zero": false}, "axis": null}
          }
        },
        {
          "data": {"name": "bot_yt"},
          "mark": {"type": "text", "align": "right", "baseline": "middle", "font": "DejaVu Sans", "fontSize": 13.5, "color": "#222"},
          "encoding": {
            "x": {"datum": 305.034, "type": "quantitative", "scale": {"domain": [305.23, 320.32], "range": [195, 810.7], "nice": false, "zero": false}, "axis": null},
            "y": {"field": "v", "type": "quantitative", "scale": {"domain": [-25, 354], "range": [916.9, 559.1], "nice": false, "zero": false}, "axis": null},
            "text": {"field": "v", "type": "quantitative", "format": "d"}
          }
        },
        {
          "data": {"values": [{}]},
          "mark": {"type": "text", "text": "Time [ms]", "align": "center", "baseline": "middle", "font": "DejaVu Sans", "fontSize": 13.5, "color": "#222"},
          "encoding": {
            "x": {"datum": 312.775, "type": "quantitative", "scale": {"domain": [305.23, 320.32], "range": [195, 810.7], "nice": false, "zero": false}, "axis": null},
            "y": {"datum": -57.9, "type": "quantitative", "scale": {"domain": [-25, 354], "range": [916.9, 559.1], "nice": false, "zero": false}, "axis": null}
          }
        },
        {
          "data": {"values": [{}]},
          "mark": {"type": "text", "text": "SXR [mV]", "angle": 270, "align": "center", "baseline": "middle", "font": "DejaVu Sans", "fontSize": 13, "color": "#222"},
          "encoding": {
            "x": {"datum": 304.054, "type": "quantitative", "scale": {"domain": [305.23, 320.32], "range": [195, 810.7], "nice": false, "zero": false}, "axis": null},
            "y": {"datum": 164.5, "type": "quantitative", "scale": {"domain": [-25, 354], "range": [916.9, 559.1], "nice": false, "zero": false}, "axis": null}
          }
        },
        {
          "data": {"values": [{}]},
          "mark": {"type": "text", "text": "Al 1.0 um", "align": "left", "baseline": "alphabetic", "font": "Liberation Sans", "fontSize": 37, "fontWeight": "bold", "color": "#ff7f0e"},
          "encoding": {
            "x": {"datum": 308.05, "type": "quantitative", "scale": {"domain": [305.23, 320.32], "range": [195, 810.7], "nice": false, "zero": false}, "axis": null},
            "y": {"datum": 194.2, "type": "quantitative", "scale": {"domain": [-25, 354], "range": [916.9, 559.1], "nice": false, "zero": false}, "axis": null}
          }
        },
        {
          "data": {"values": [{}]},
          "mark": {"type": "text", "text": "1 × 4 mm²", "align": "left", "baseline": "alphabetic", "font": "Liberation Sans", "fontSize": 37, "color": "#ff7f0e"},
          "encoding": {
            "x": {"datum": 308.0, "type": "quantitative", "scale": {"domain": [305.23, 320.32], "range": [195, 810.7], "nice": false, "zero": false}, "axis": null},
            "y": {"datum": 148.3, "type": "quantitative", "scale": {"domain": [-25, 354], "range": [916.9, 559.1], "nice": false, "zero": false}, "axis": null}
          }
        },
        {
          "data": {"values": [{}]},
          "mark": {"type": "text", "text": "Ag 0.2 um", "align": "left", "baseline": "alphabetic", "font": "Liberation Sans", "fontSize": 37, "fontWeight": "bold", "color": "#1f77b4"},
          "encoding": {
            "x": {"datum": 305.965, "type": "quantitative", "scale": {"domain": [305.23, 320.32], "range": [195, 810.7], "nice": false, "zero": false}, "axis": null},
            "y": {"datum": 81.1, "type": "quantitative", "scale": {"domain": [-25, 354], "range": [916.9, 559.1], "nice": false, "zero": false}, "axis": null}
          }
        },
        {
          "data": {"values": [{}]},
          "mark": {"type": "text", "text": "1 × 4 mm²", "align": "left", "baseline": "alphabetic", "font": "Liberation Sans", "fontSize": 37, "color": "#1f77b4"},
          "encoding": {
            "x": {"datum": 305.94, "type": "quantitative", "scale": {"domain": [305.23, 320.32], "range": [195, 810.7], "nice": false, "zero": false}, "axis": null},
            "y": {"datum": 35.3, "type": "quantitative", "scale": {"domain": [-25, 354], "range": [916.9, 559.1], "nice": false, "zero": false}, "axis": null}
          }
        },
        {
          "data": {"values": [{}]},
          "mark": {"type": "text", "text": ["Ag showed", "much low level", "even with max.", "pinhole"], "lineHeight": 38.8, "align": "left", "baseline": "alphabetic", "font": "Liberation Sans", "fontSize": 32, "fontWeight": "bold", "color": "black"},
          "encoding": {
            "x": {"datum": 317.08, "type": "quantitative", "scale": {"domain": [305.23, 320.32], "range": [195, 810.7], "nice": false, "zero": false}, "axis": null},
            "y": {"datum": 316.0, "type": "quantitative", "scale": {"domain": [-25, 354], "range": [916.9, 559.1], "nice": false, "zero": false}, "axis": null}
          }
        }
      ]
    }
  ],
  "resolve": {"scale": {"x": "independent", "y": "independent"}}
}
